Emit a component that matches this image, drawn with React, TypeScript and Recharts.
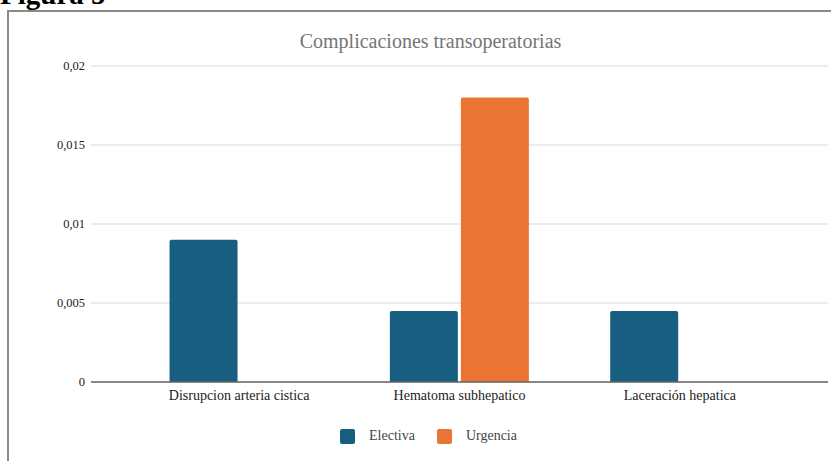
import React from 'react';
import { BarChart, Bar, XAxis, YAxis, CartesianGrid, Legend } from 'recharts';

const categories = ['Disrupcion arteria cistica', 'Hematoma subhepatico', 'Laceración hepatica'];
const electiva = [0.009, 0.0045, 0.0045];
const urgencia = [0, 0.018, 0];
const yTicks = [0, 0.005, 0.01, 0.015, 0.02];

const data = categories.map((name, i) => ({ name, Electiva: electiva[i], Urgencia: urgencia[i] }));

const COLORS = { Electiva: '#175e80', Urgencia: '#ea7434' };
const FONT = '"Liberation Serif", "Times New Roman", serif';

const LegendContent = () => (
  <div style={{ display: 'flex', justifyContent: 'center', alignItems: 'center', height: 30, fontFamily: FONT, fontSize: 14, color: '#444', paddingLeft: 40 }}>
    {(['Electiva', 'Urgencia'] as const).map((k) => (
      <span key={k} style={{ display: 'flex', alignItems: 'center', marginRight: 22 }}>
        <span style={{ display: 'inline-block', width: 15, height: 15, borderRadius: 2, background: COLORS[k], marginRight: 14 }} />
        {k}
      </span>
    ))}
  </div>
);

const App: React.FC = () => {
  return (
    <div style={{ position: 'fixed', left: 0, top: 0, width: 831, height: 461, overflow: 'hidden', background: '#fff', fontFamily: FONT }}>
      <div style={{ position: 'absolute', left: 0, top: -22, fontWeight: 700, fontSize: 29, color: '#000', whiteSpace: 'nowrap' }}>
        Figura 5
      </div>
      <div style={{ position: 'absolute', left: 7, top: 10, width: 840, height: 470, borderLeft: '2px solid #8a8a8a', borderTop: '2px solid #8a8a8a' }} />
      <div style={{ position: 'absolute', left: 0, top: 30, width: 861, textAlign: 'center', fontSize: 20, color: '#757575' }}>
        Complicaciones transoperatorias
      </div>
      <div style={{ position: 'absolute', left: 0, top: 0 }}>
        <BarChart width={831} height={461} data={data} margin={{ top: 66, right: 3, left: 11, bottom: 10 }} barGap={3} barCategoryGap="18.4%">
          <CartesianGrid horizontal vertical={false} stroke="#d9d9d9" />
          <XAxis
            dataKey="name"
            height={39}
            padding={{ left: 38, right: 38 }}
            tickLine={false}
            axisLine={{ stroke: '#666', strokeWidth: 1.5 }}
            tick={{ fontSize: 14, fill: '#222', fontFamily: FONT }}
          />
          <YAxis
            width={80}
            domain={[0, 0.02]}
            ticks={yTicks}
            axisLine={false}
            tickLine={false}
            tickSize={4}
            tickMargin={2}
            tickFormatter={(v: number) => String(v).replace('.', ',')}
            tick={{ fontSize: 12.5, fill: '#222', fontFamily: FONT }}
          />
          <Legend verticalAlign="bottom" height={30} content={<LegendContent />} />
          <Bar dataKey="Electiva" fill={COLORS.Electiva} radius={[2, 2, 0, 0]} isAnimationActive={false} />
          <Bar dataKey="Urgencia" fill={COLORS.Urgencia} radius={[2, 2, 0, 0]} isAnimationActive={false} />
        </BarChart>
      </div>
    </div>
  );
};

export default App;
